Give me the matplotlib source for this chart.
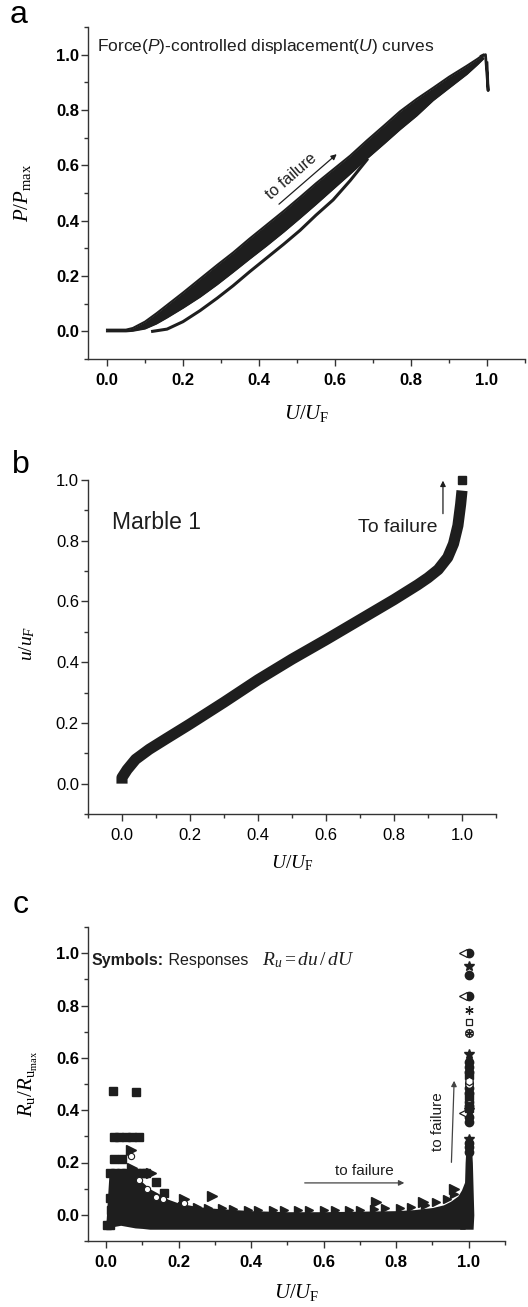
import matplotlib
matplotlib.use('Agg')
import matplotlib.pyplot as plt
from matplotlib.ticker import MultipleLocator

plt.rcParams['font.family'] = ['Liberation Sans', 'DejaVu Sans']
plt.rcParams['mathtext.fontset'] = 'custom'
plt.rcParams['mathtext.rm'] = 'Liberation Serif'
plt.rcParams['mathtext.it'] = 'Liberation Serif:italic'
plt.rcParams['mathtext.bf'] = 'Liberation Sans:bold'
plt.rcParams['mathtext.sf'] = 'Liberation Sans:italic'

INK = '#1e1e1e'

# ---- panel a : P/Pmax vs U/UF, bundle of loading cycles (edges)
band_x = [0.0, 0.05, 0.068, 0.1, 0.13, 0.158, 0.2, 0.245, 0.29, 0.332, 0.375, 0.42, 0.465, 0.508, 0.55,
          0.595, 0.64, 0.684, 0.73, 0.771, 0.815, 0.858, 0.9, 0.947, 0.975, 0.99]
band_top = [0.006, 0.006, 0.012, 0.035, 0.065, 0.095, 0.14, 0.19, 0.24, 0.285, 0.335, 0.385, 0.435, 0.485, 0.535,
            0.585, 0.635, 0.69, 0.745, 0.795, 0.84, 0.88, 0.92, 0.96, 0.985, 1.0]
band_bot = [0.0, 0.0, 0.002, 0.01, 0.028, 0.05, 0.085, 0.125, 0.17, 0.215, 0.262, 0.31, 0.36, 0.41, 0.46,
            0.515, 0.57, 0.625, 0.68, 0.73, 0.78, 0.835, 0.88, 0.93, 0.965, 0.985]
first_x = [0.12, 0.158, 0.2, 0.245, 0.29, 0.332, 0.375, 0.42, 0.465, 0.508, 0.55, 0.595, 0.64, 0.684]
first_y = [0.0, 0.008, 0.035, 0.075, 0.12, 0.165, 0.215, 0.265, 0.315, 0.365, 0.42, 0.475, 0.545, 0.62]
peak_x = [0.985, 0.996, 1.003, 1.0]
peak_y = [0.995, 1.0, 0.87, 0.97]

# ---- panel b : u/uF vs U/UF (Marble 1)
b_x = [0.0, 0.0, 0.015, 0.04, 0.08, 0.13, 0.198, 0.3, 0.4, 0.5, 0.6, 0.7, 0.8, 0.87, 0.9, 0.93, 0.958, 0.975,
       0.988, 0.996, 1.0]
b_y = [0.0, 0.02, 0.046, 0.08, 0.113, 0.148, 0.195, 0.268, 0.342, 0.41, 0.474, 0.54, 0.606, 0.655, 0.678, 0.705,
       0.745, 0.79, 0.85, 0.92, 0.965]

# ---- panel c : Ru/Ru_max responses
core_x = [0.0, 0.008, 0.02, 0.04, 0.06, 0.08, 0.1, 0.12, 0.14, 0.17, 0.2, 0.25, 0.3, 0.4, 0.5,
          0.6, 0.7, 0.8, 0.85, 0.9, 0.93, 0.95, 0.97, 0.98, 0.99]
core_top = [-0.02, 0.16, 0.165, 0.165, 0.16, 0.15, 0.125, 0.1, 0.085, 0.06, 0.045, 0.032, 0.025, 0.016, 0.012,
            0.012, 0.014, 0.016, 0.02, 0.028, 0.038, 0.052, 0.072, 0.095, 0.13]
core_bot = [-0.045, -0.05, -0.045, -0.04, -0.045, -0.05, -0.052, -0.055, -0.055, -0.055, -0.055, -0.055, -0.055,
            -0.055, -0.055, -0.055, -0.055, -0.055, -0.055, -0.055, -0.055, -0.055, -0.055, -0.055, -0.055]
col_y = [-0.055, 0.0, 0.1, 0.2, 0.25, 0.3]
col_left = [0.975, 0.983, 0.988, 0.99, 0.992, 0.994]
col_right = [1.012, 1.014, 1.012, 1.01, 1.008, 1.006]

sq_x = [0.02, 0.083, 0.022, 0.036, 0.055, 0.072, 0.091, 0.022, 0.045, 0.01, 0.025, 0.04, 0.055, 0.07, 0.085,
        0.1, 0.11, 0.138, 0.16, 0.014, 0.003, 0.012, 0.01]
sq_y = [0.474, 0.47, 0.298, 0.298, 0.298, 0.298, 0.298, 0.213, 0.213, 0.16, 0.16, 0.16, 0.16, 0.16, 0.16,
        0.16, 0.16, 0.126, 0.085, 0.019, -0.038, -0.038, 0.065]
rtri_x = [0.069, 0.07, 0.125, 0.216, 0.293, 0.745, 0.875, 0.96]
rtri_y = [0.248, 0.18, 0.16, 0.06, 0.073, 0.05, 0.05, 0.10]
saw_x = [0.18, 0.21, 0.25, 0.28, 0.32, 0.35, 0.39, 0.42, 0.46, 0.49, 0.53, 0.56, 0.60, 0.63, 0.67, 0.70,
         0.74, 0.77, 0.81, 0.84, 0.88, 0.91, 0.94, 0.96]
saw_y = [0.04, 0.035, 0.03, 0.028, 0.025, 0.022, 0.02, 0.02, 0.018, 0.018, 0.018, 0.018, 0.018, 0.018, 0.02,
         0.02, 0.022, 0.025, 0.028, 0.03, 0.038, 0.048, 0.062, 0.078]
oc_x = [0.069, 0.091, 0.114, 0.138, 0.158, 0.215]
oc_y = [0.225, 0.133, 0.099, 0.07, 0.062, 0.045]

# markers stacked at U/UF = 1
col_fcircle_y = [1.0, 0.915, 0.836, 0.585, 0.565, 0.545, 0.485, 0.465, 0.43, 0.415, 0.375, 0.355, 0.275, 0.26, 0.24]
col_star_y = [0.95, 0.615, 0.4, 0.29]
col_ocircle_y = [0.694, 0.5, 0.445]
col_osquare_y = [0.737]
col_aster_y = [0.783, 0.694]
col_ltri_y = [1.0, 0.836, 0.39]
col_fsquare_y = [0.535, 0.455, 0.41]
col_ftri_y = [0.595, 0.52, 0.385]
col_hex_y = [0.51]

ticks = [0.0, 0.2, 0.4, 0.6, 0.8, 1.0]
tick_labels = ['0.0', '0.2', '0.4', '0.6', '0.8', '1.0']


def style_axes(ax, xlim, ylim, bold):
    ax.set_xlim(*xlim)
    ax.set_ylim(*ylim)
    ax.spines['top'].set_visible(False)
    ax.spines['right'].set_visible(False)
    for s in ['left', 'bottom']:
        ax.spines[s].set_linewidth(1.0)
        ax.spines[s].set_color('#333333')
    w = 'bold' if bold else 'normal'
    ax.set_xticks(ticks)
    ax.set_xticklabels(tick_labels, fontweight=w)
    ax.set_yticks(ticks)
    ax.set_yticklabels(tick_labels, fontweight=w)
    ax.xaxis.set_minor_locator(MultipleLocator(0.1))
    ax.yaxis.set_minor_locator(MultipleLocator(0.1))
    ax.tick_params(which='major', direction='out', length=5, width=1, labelsize=12, color='#333333')
    ax.tick_params(which='minor', direction='out', length=3, width=1, color='#333333')
    ax.tick_params(axis='x', pad=5)
    ax.tick_params(axis='y', pad=1.5)


def arrow(ax, start, end, color=INK):
    ax.annotate('', xy=end, xytext=start, annotation_clip=False,
                arrowprops=dict(arrowstyle='-|>', lw=0.9, color=color, mutation_scale=8))


fig = plt.figure(figsize=(5.28, 13.07), dpi=100)
W, H = 528.0, 1307.0

# ---------------- a
ax = fig.add_axes([88 / W, 1 - 359 / H, 437 / W, 332 / H])
ax.fill_between(band_x, band_bot, band_top, color=INK, lw=0)
ax.plot(band_x, band_top, color=INK, lw=1.5)
ax.plot(band_x, band_bot, color=INK, lw=1.5)
ax.plot(first_x, first_y, color=INK, lw=2.2)
ax.plot(peak_x, peak_y, color=INK, lw=2.0)
arrow(ax, (0.447, 0.453), (0.61, 0.647))
ax.text(0.484, 0.561, 'to failure', rotation=41, rotation_mode='anchor', ha='center', va='center',
        fontsize=11.5, color=INK)
ax.text(-0.026, 1.012, r'Force($\mathsf{P}$)-controlled displacement($\mathsf{U}$) curves', fontsize=12.5,
        color=INK, va='baseline')
style_axes(ax, (-0.05, 1.1), (-0.1, 1.1), True)
ax.set_xlabel(r'$U/U_{\mathrm{F}}$', fontsize=15, va='top')
ax.xaxis.set_label_coords(0.5, -0.132)
ax.set_ylabel(r'$P/P_{\mathrm{max}}$', fontsize=15)
ax.yaxis.set_label_coords(-0.125, 0.5)
fig.text(10 / W, 1 - 23 / H, 'a', fontsize=23, va='baseline')

# ---------------- b
ax = fig.add_axes([88 / W, 1 - 814 / H, 408 / W, 334 / H])
ax.plot(b_x, b_y, color=INK, lw=8, solid_capstyle='butt', solid_joinstyle='round')
ax.plot([1.0], [1.0], 's', color=INK, ms=5.5, clip_on=False)
arrow(ax, (0.944, 0.88), (0.944, 1.007))
ax.text(0.695, 0.828, 'To failure', fontsize=14, color=INK, va='baseline')
ax.text(-0.03, 0.838, 'Marble 1', fontsize=16.5, color=INK, va='baseline')
style_axes(ax, (-0.1, 1.1), (-0.1, 1.0), False)
ax.set_xlabel(r'$U/U_{\mathrm{F}}$', fontsize=14, va='top')
ax.xaxis.set_label_coords(0.5, -0.117)
ax.set_ylabel(r'$u/u_F$', fontsize=14)
ax.yaxis.set_label_coords(-0.125, 0.51)
fig.text(12 / W, 1 - 473 / H, 'b', fontsize=23, va='baseline')

# ---------------- c
ax = fig.add_axes([88 / W, 1 - 1241 / H, 417 / W, 314 / H])
ax.fill_between(core_x, core_bot, core_top, color=INK, lw=0)
ax.fill_betweenx(col_y, col_left, col_right, color=INK, lw=0)
ax.plot(saw_x, saw_y, '>', color=INK, ms=6, ls='none')
ax.plot(sq_x, sq_y, 's', color=INK, ms=5.5, ls='none')
ax.plot(rtri_x, rtri_y, '>', color=INK, ms=6.5, ls='none')
ax.plot(oc_x, oc_y, 'o', mfc='white', mec=INK, ms=4.5, mew=0.8, ls='none')
ax.plot([1.0] * len(col_fcircle_y), col_fcircle_y, 'o', color=INK, ms=6, ls='none')
ax.plot([1.0] * len(col_star_y), col_star_y, '*', color=INK, ms=7, ls='none')
ax.plot([1.0] * len(col_ocircle_y), col_ocircle_y, 'o', mfc='white', mec=INK, ms=5.5, mew=0.9, ls='none')
ax.plot([1.0] * len(col_osquare_y), col_osquare_y, 's', mfc='white', mec=INK, ms=5, mew=0.9, ls='none')
ax.plot([1.0] * len(col_aster_y), col_aster_y, marker=(6, 2, 0), color=INK, ms=6, mew=0.9, ls='none')
ax.plot([0.985] * len(col_ltri_y), col_ltri_y, '<', mfc='white', mec=INK, ms=6, mew=0.9, ls='none')
ax.plot([1.0] * len(col_fsquare_y), col_fsquare_y, 's', color=INK, ms=5.5, ls='none')
ax.plot([1.0] * len(col_ftri_y), col_ftri_y, '^', color=INK, ms=6, ls='none')
ax.plot([1.0] * len(col_hex_y), col_hex_y, 'h', mfc='white', mec=INK, ms=6, mew=0.9, ls='none')
arrow(ax, (0.54, 0.122), (0.83, 0.122), '#444444')
ax.text(0.712, 0.153, 'to failure', fontsize=11, color=INK, ha='center', va='baseline')
arrow(ax, (0.952, 0.19), (0.96, 0.523), '#444444')
ax.text(0.914, 0.355, 'to failure', fontsize=11, color=INK, ha='center', va='center', rotation=90)
t1 = ax.text(-0.039, 0.954, 'Symbols:', fontsize=11.5, fontweight='bold', color=INK, va='baseline')
ax.annotate(' Responses', xy=(1, 0), xycoords=t1, va='bottom', fontsize=11.5, color=INK)
ax.text(0.43, 0.954, r'$R_u = du\,/\,dU$', fontsize=14, color=INK, va='baseline')
style_axes(ax, (-0.05, 1.1), (-0.1, 1.1), True)
ax.set_xlabel(r'$U/U_{\mathrm{F}}$', fontsize=15, va='top')
ax.xaxis.set_label_coords(0.5, -0.13)
ax.set_ylabel(r'$R_{\mathrm{u}}/R_{\mathrm{u}_{\mathrm{max}}}$', fontsize=15)
ax.yaxis.set_label_coords(-0.115, 0.5)
fig.text(13 / W, 1 - 913 / H, 'c', fontsize=23, va='baseline')

fig.savefig('out.png', dpi=100)
